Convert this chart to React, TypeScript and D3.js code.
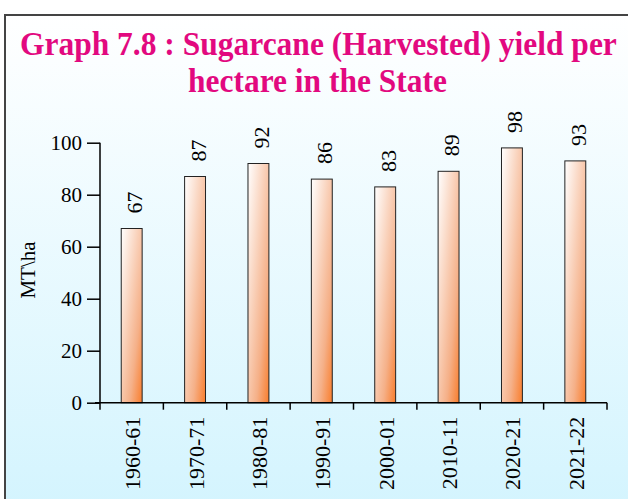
import React, { useEffect, useRef } from 'react';
import * as d3 from 'd3';

const years = ['1960-61', '1970-71', '1980-81', '1990-91', '2000-01', '2010-11', '2020-21', '2021-22'];
const yieldValues = [67, 87, 92, 86, 83, 89, 98, 93];
const yTicks = [0, 20, 40, 60, 80, 100];
const titleLines = ['Graph 7.8 : Sugarcane (Harvested) yield per', 'hectare in the State'];

const App = () => {
  const svgRef = useRef<SVGSVGElement>(null);

  useEffect(() => {
    const svg = d3.select(svgRef.current);
    svg.selectAll('*').remove();

    const width = 628;
    const height = 499;
    const margin = { top: 142.7, right: 21, bottom: 96.3, left: 100 };
    const innerWidth = width - margin.left - margin.right;
    const innerHeight = height - margin.top - margin.bottom;
    const font = '"Liberation Serif", "Times New Roman", serif';

    const defs = svg.append('defs');
    const bg = defs.append('linearGradient').attr('id', 'bg').attr('x1', 0).attr('y1', 0).attr('x2', 0).attr('y2', 1);
    bg.append('stop').attr('offset', '0%').attr('stop-color', '#ffffff');
    bg.append('stop').attr('offset', '100%').attr('stop-color', '#d3f4fe');

    const barGrad = defs.append('linearGradient').attr('id', 'barGrad').attr('x1', 0).attr('y1', 0).attr('x2', 1).attr('y2', 1);
    barGrad.append('stop').attr('offset', '0%').attr('stop-color', '#ffffff');
    barGrad.append('stop').attr('offset', '70%').attr('stop-color', '#f5b088');
    barGrad.append('stop').attr('offset', '100%').attr('stop-color', '#f97d2c');

    // background + frame
    svg.append('rect').attr('x', 5).attr('y', 15).attr('width', width).attr('height', height).attr('fill', 'url(#bg)');
    svg.append('path').attr('d', `M5,${height} V15 H${width}`).attr('fill', 'none').attr('stroke', '#444').attr('stroke-width', 2);

    // title, squeezed horizontally to the reference widths
    const titlePos = [
      { x: 20, y: 55, w: 597 },
      { x: 188, y: 91.5, w: 259 },
    ];
    titleLines.forEach((line, i) => {
      const p = titlePos[i];
      const grp = svg.append('g');
      const t = grp.append('text')
        .attr('fill', '#e2097f')
        .attr('font-family', font)
        .attr('font-weight', 'bold')
        .attr('font-size', 33)
        .attr('x', 0)
        .attr('y', 0)
        .text(line);
      const len = (t.node() as SVGTextElement).getComputedTextLength() || p.w;
      grp.attr('transform', `translate(${p.x},${p.y}) scale(${p.w / len},1)`);
    });

    const g = svg.append('g').attr('transform', `translate(${margin.left},${margin.top})`);

    const xScale = d3.scaleBand().domain(years).range([0, innerWidth]).paddingInner(0.67).paddingOuter(0.335);
    const xTicks = d3.scaleBand().domain(years).range([0, innerWidth]);
    const yScale = d3.scaleLinear().domain([0, 100]).range([innerHeight, 0]);

    // bars
    g.selectAll('.bar')
      .data(yieldValues)
      .join('rect')
      .attr('class', 'bar')
      .attr('x', (d, i) => xScale(years[i]))
      .attr('y', (d) => yScale(d))
      .attr('width', xScale.bandwidth())
      .attr('height', (d) => innerHeight - yScale(d))
      .attr('fill', 'url(#barGrad)')
      .attr('stroke', '#222')
      .attr('stroke-width', 1);

    // bar labels
    g.selectAll('.bar-label')
      .data(yieldValues)
      .join('text')
      .attr('class', 'bar-label')
      .attr('font-family', font)
      .attr('font-size', 22)
      .attr('fill', '#000')
      .attr('text-anchor', 'start')
      .attr('dominant-baseline', 'central')
      .attr('transform', (d, i) => `translate(${xScale(years[i]) + xScale.bandwidth() / 2 + 3},${yScale(d) - 15}) rotate(-90)`)
      .text((d) => d);

    // y axis
    const yAxis = g.append('g').call(d3.axisLeft(yScale).tickValues(yTicks).tickSize(13).tickPadding(5).tickFormat(d3.format('d')));
    yAxis.select('.domain').attr('d', `M0,${innerHeight}V0`).attr('stroke', '#000').attr('stroke-width', 1.5);
    yAxis.selectAll('.tick line').attr('stroke', '#000').attr('stroke-width', 1.5);
    yAxis.selectAll('.tick text').attr('font-family', font).attr('font-size', 21).attr('fill', '#000').attr('x', -18);

    // x axis
    const xAxis = g.append('g').attr('transform', `translate(0,${innerHeight})`).call(d3.axisBottom(xTicks).tickSize(0).tickFormat(() => ''));
    xAxis.select('.domain').attr('d', `M-5,0H${innerWidth}`).attr('stroke', '#000').attr('stroke-width', 1.5);
    xAxis.selectAll('.tick').remove();
    xAxis
      .selectAll('.cat-tick')
      .data(d3.range(years.length + 1))
      .join('line')
      .attr('x1', (i) => i * xTicks.step())
      .attr('x2', (i) => i * xTicks.step())
      .attr('y1', 0)
      .attr('y2', 7)
      .attr('stroke', '#000')
      .attr('stroke-width', 1.5);

    g.selectAll('.x-label')
      .data(years)
      .join('text')
      .attr('class', 'x-label')
      .attr('font-family', font)
      .attr('font-size', 22)
      .attr('fill', '#000')
      .attr('text-anchor', 'end')
      .attr('dominant-baseline', 'central')
      .attr('transform', (d) => `translate(${xTicks(d) + xTicks.bandwidth() / 2 + 1},${innerHeight + 14}) rotate(-90)`)
      .text((d) => d);

    // y axis title
    svg.append('text')
      .attr('font-family', font)
      .attr('font-size', 21)
      .attr('fill', '#000')
      .attr('text-anchor', 'middle')
      .attr('dominant-baseline', 'central')
      .attr('transform', 'translate(28,270) rotate(-90)')
      .text('MT\\ha');
  }, []);

  return (
    <svg ref={svgRef} width={628} height={499} style={{ position: 'absolute', left: 0, top: 0 }} />
  );
};

export default App;
